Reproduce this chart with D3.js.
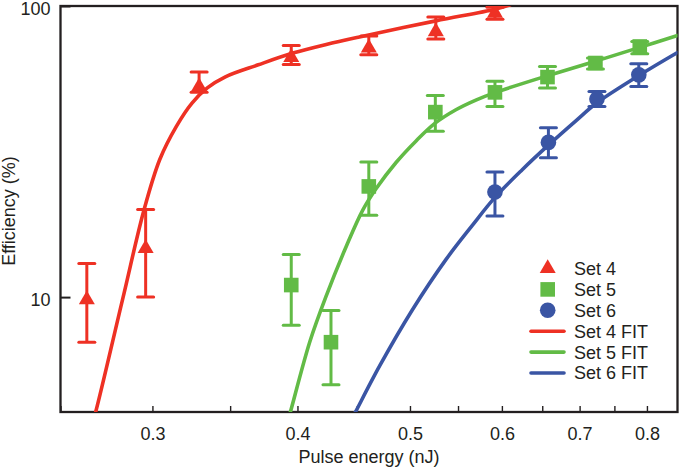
<!DOCTYPE html>
<html><head><meta charset="utf-8">
<script src="https://cdn.jsdelivr.net/npm/d3@7"></script>
<style>
body{margin:0;background:#fff}
text{font-family:"Liberation Sans",Arial,Helvetica,sans-serif;fill:#231f20}
</style>
</head><body>
<svg id="chart" width="680" height="469"></svg>
<script>
// ---- data ----
const xTickValues = [0.25,0.3,0.35,0.4,0.45,0.5,0.55,0.6,0.65,0.7,0.75,0.8];
const xTickLabels = [0.3,0.4,0.5,0.6,0.7,0.8];
const yTickValues = [10,100];
const xDomain = [0.25,0.85];
const yDomain = [4.03,100];

const set4X  = [0.2634,0.296,0.3291,0.3951,0.4608,0.5263,0.5918];
const set4Y  = [9.8,14.7,52.8,66.6,71.8,81.7,94.6];
const set4Lo = [7.0,10.0,50.5,63.0,68.0,77.0,90.0];
const set4Hi = [13.05,20.0,59.3,73.2,78.9,91.7,99.0];

const set5X  = [0.3951,0.4275,0.4608,0.5258,0.5918,0.6568,0.7223,0.7887];
const set5Y  = [11.0,7.0,24.0,43.2,50.5,57.0,63.7,72.6];
const set5Lo = [8.0,5.0,19.1,37.1,45.2,52.3,60.8,68.5];
const set5Hi = [14.0,9.0,29.1,49.3,55.1,62.0,66.3,75.5];

const set6X  = [0.5918,0.658,0.7245,0.7872];
const set6Y  = [22.95,34.0,47.9,58.0];
const set6Lo = [19.0,30.1,45.2,52.9];
const set6Hi = [26.9,38.2,50.9,63.3];

const fit4X = [0.2668,0.2681,0.2828,0.2951,0.3044,0.3146,0.3245,0.3345,0.3467,0.3701,0.3964,0.4235,0.4523,0.5263,0.5918,0.6100];
const fit4Y = [3.8,4.04,9.84,20.0,29.7,38.6,46.4,52.3,57.1,62.8,68.9,73.8,78.3,88.9,97.5,101.0];

const fit5X = [0.3930,0.3944,0.4098,0.4235,0.4407,0.4553,0.4676,0.4864,0.5061,0.5253,0.5477,0.5698,0.5918,0.6568,0.7223,0.7887,0.8500];
const fit5Y = [3.85,4.03,7.0,10.1,14.95,19.9,23.6,29.0,34.4,39.5,44.0,47.5,50.4,57.6,64.6,72.1,79.2];

const fit6X = [0.4475,0.4489,0.4708,0.5023,0.5373,0.5656,0.5918,0.6247,0.6576,0.6952,0.7245,0.7891,0.8500];
const fit6Y = [3.95,4.04,5.80,9.03,13.5,17.6,22.0,27.4,33.2,40.4,46.5,58.0,69.2];

const series = [
  {name:"Set 4", color:"#ee3124", shape:"triangle", x:set4X, y:set4Y, lo:set4Lo, hi:set4Hi, fx:fit4X, fy:fit4Y},
  {name:"Set 5", color:"#62bb46", shape:"square",   x:set5X, y:set5Y, lo:set5Lo, hi:set5Hi, fx:fit5X, fy:fit5Y},
  {name:"Set 6", color:"#3a55a4", shape:"circle",   x:set6X, y:set6Y, lo:set6Lo, hi:set6Hi, fx:fit6X, fy:fit6Y}
];

// ---- layout ----
const L=60.5, R=677.5, T=6, B=412;
const svg = d3.select("#chart");
const x = d3.scaleLog().domain(xDomain).range([L,R]);
const y = d3.scaleLog().domain(yDomain).range([B,T]);

svg.append("defs").append("clipPath").attr("id","plotclip")
  .append("rect").attr("x",L).attr("y",T).attr("width",R-L).attr("height",B-T);

// axes (ticks inward)
const labelSet = new Set(xTickLabels.map(String));
const gx = svg.append("g").attr("transform",`translate(0,${B})`)
  .call(d3.axisBottom(x).tickValues(xTickValues).tickSizeInner(-6).tickSizeOuter(0).tickPadding(15)
     .tickFormat(d => labelSet.has(String(d)) ? d3.format(".1f")(d) : ""));
gx.select(".domain").remove();
gx.selectAll(".tick line").attr("stroke","#231f20").attr("stroke-width",1.4);
gx.selectAll(".tick text").attr("font-size",18).attr("fill","#231f20")
  .style("font-family",'"Liberation Sans",Arial,sans-serif');

const gy = svg.append("g").attr("transform",`translate(${L},0)`)
  .call(d3.axisLeft(y).tickValues(yTickValues).tickSizeInner(-10).tickSizeOuter(0).tickPadding(10)
     .tickFormat(d3.format("d")));
gy.select(".domain").remove();
gy.selectAll(".tick line").attr("stroke","#231f20").attr("stroke-width",2);
gy.selectAll(".tick text").attr("font-size",18).attr("fill","#231f20").attr("dy","0.45em")
  .style("font-family",'"Liberation Sans",Arial,sans-serif');

// frame
svg.append("rect").attr("x",L).attr("y",T).attr("width",R-L).attr("height",B-T)
  .attr("fill","none").attr("stroke","#231f20").attr("stroke-width",2.3);

// titles
svg.append("text").attr("x",369).attr("y",463).attr("text-anchor","middle")
  .attr("font-size",18).text("Pulse energy (nJ)");
svg.append("text").attr("transform","translate(15,211) rotate(-90)").attr("text-anchor","middle")
  .attr("font-size",18).text("Efficiency (%)");

// marker helper
const triH = 16*Math.sqrt(3)/2;
function marker(g, shape, color, cx, cy){
  if(shape==="triangle"){
    g.append("path").attr("d",`M${cx},${cy-2*triH/3}L${cx+8},${cy+triH/3}L${cx-8},${cy+triH/3}Z`).attr("fill",color);
  } else if(shape==="square"){
    g.append("rect").attr("x",cx-7.3).attr("y",cy-7.3).attr("width",14.6).attr("height",14.6).attr("fill",color);
  } else {
    g.append("circle").attr("cx",cx).attr("cy",cy).attr("r",7.8).attr("fill",color);
  }
}

const plot = svg.append("g").attr("clip-path","url(#plotclip)");
const line = d3.line().x(d=>x(d[0])).y(d=>y(d[1])).curve(d3.curveCatmullRom.alpha(0.5));

series.forEach(s=>{
  const g = plot.append("g");
  s.x.forEach((xv,i)=>{
    const cx=x(xv);
    g.append("line").attr("x1",cx).attr("x2",cx).attr("y1",y(s.lo[i])).attr("y2",y(s.hi[i]))
      .attr("stroke",s.color).attr("stroke-width",3);
    [s.lo[i],s.hi[i]].forEach(v=>{
      g.append("line").attr("x1",cx-8).attr("x2",cx+8).attr("y1",y(v)).attr("y2",y(v))
        .attr("stroke",s.color).attr("stroke-width",3).attr("stroke-linecap","round");
    });
  });
  g.append("path").datum(s.fx.map((v,i)=>[v,s.fy[i]])).attr("d",line)
    .attr("fill","none").attr("stroke",s.color).attr("stroke-width",3.6).attr("stroke-linecap","round");
  s.x.forEach((xv,i)=>marker(g,s.shape,s.color,x(xv),y(s.y[i])));
});

// legend
const lg = svg.append("g");
const rowY = i => 268.5 + i*20.9;
series.forEach((s,i)=>{
  marker(lg,s.shape,s.color,547.7,rowY(i));
  lg.append("text").attr("x",574).attr("y",rowY(i)).attr("dy","0.36em").attr("font-size",18).text(s.name);
});
series.forEach((s,i)=>{
  const yy=rowY(i+3);
  lg.append("line").attr("x1",531).attr("x2",564).attr("y1",yy).attr("y2",yy)
    .attr("stroke",s.color).attr("stroke-width",3.6).attr("stroke-linecap","round");
  lg.append("text").attr("x",574).attr("y",yy).attr("dy","0.36em").attr("font-size",18).text(s.name+" FIT");
});
</script>
</body></html>
